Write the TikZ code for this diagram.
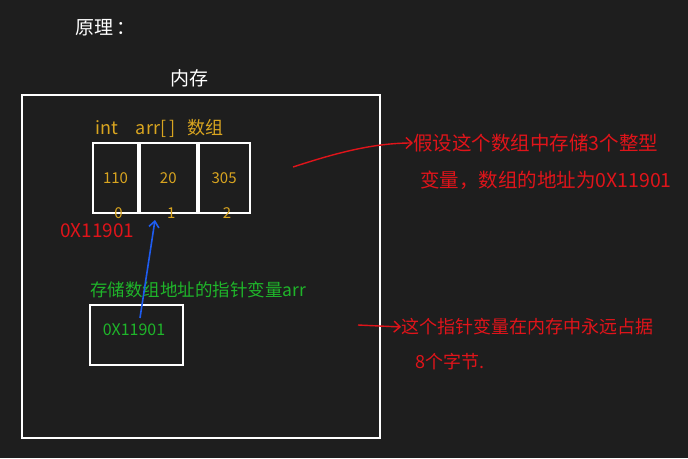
\documentclass[tikz,border=0pt]{standalone}
\usepackage{fontspec}
\newfontfamily\cjk{Noto Sans CJK SC}
\usetikzlibrary{positioning,arrows.meta}
\definecolor{bgdark}{HTML}{1E1E1E}
\definecolor{inkyellow}{HTML}{D9A520}
\definecolor{inkgreen}{HTML}{1FB52A}
\definecolor{inkred}{HTML}{E0141A}
\definecolor{inkblue}{HTML}{1E5CF0}
\begin{document}
\begin{tikzpicture}[x=1pt, y=-1pt, node distance=0cm,
    whitebox/.style={draw=white, line width=1.8pt},
    cellbox/.style={whitebox, minimum height=70pt, inner sep=0pt},
    whitetxt/.style={text=white, font=\cjk\fontsize{19}{22}\selectfont},
    yellowtxt/.style={text=inkyellow, font=\cjk\fontsize{15}{18}\selectfont},
    greentxt/.style={text=inkgreen, font=\cjk\fontsize{17.5}{20}\selectfont},
    redtxt/.style={text=inkred, font=\cjk\fontsize{19.5}{22}\selectfont, anchor=west, inner sep=0pt},
    redarrow/.style={draw=inkred, line width=1.4pt, -{Straight Barb[length=6pt,width=11pt]}}]
    \fill[bgdark] (0,0) rectangle (688,458);

    \node [whitetxt, anchor=west, inner sep=0pt] (title) at (75,28) {原理\,：};
    \node [whitetxt] (memlabel) at (189,78) {内存};
    \node [whitebox, minimum width=358pt, minimum height=343pt] (mem) at (201,266.5) {};

    % array
    \node [yellowtxt, font=\cjk\fontsize{18}{20}\selectfont, anchor=west, inner sep=0pt] (arrname) at (95,128) {int\quad arr[\,]\;\, 数组};
    \node [cellbox, minimum width=45pt] (cell0) at (115.5,178) {};
    \node [cellbox, minimum width=57pt, right=0cm of cell0] (cell1) {};
    \node [cellbox, minimum width=51pt, right=0cm of cell1] (cell2) {};
    \node [yellowtxt] at (cell0) {110};
    \node [yellowtxt] at (cell1) {20};
    \node [yellowtxt] at (cell2) {305};
    \node [yellowtxt, inner sep=0pt] at ([xshift=3pt,yshift=1pt]cell0.south) {0};
    \node [yellowtxt, inner sep=0pt] at ([xshift=3pt,yshift=1pt]cell1.south) {1};
    \node [yellowtxt, inner sep=0pt] at ([xshift=3pt,yshift=1pt]cell2.south) {2};
    \node [redtxt, font=\cjk\fontsize{19}{22}\selectfont] (arraddr) at (60,231) {0X11901};

    % pointer
    \node [greentxt, anchor=west, inner sep=0pt] (ptrname) at (90,290) {存储数组地址的指针变量arr};
    \node [whitebox, minimum width=93pt, minimum height=60pt] (ptr) at (136.5,335) {};
    \node [greentxt, font=\cjk\fontsize{16}{18}\selectfont] (ptrval) at (134,330) {0X11901};
    \coordinate (ptrtip) at (140,318);
    \coordinate (arrtip) at (155,220);
    \draw [inkblue, line width=1.6pt, -{Straight Barb[length=6pt,width=10pt]}] (ptrtip) -- (arrtip);

    % notes
    \node [redtxt] (note1a) at (413,143) {假设这个数组中存储3个整型};
    \node [redtxt] (note1b) at (420,180) {变量，数组的地址为0X11901};
    \coordinate (note1src) at (293,167);
    \draw [redarrow] (note1src) .. controls (330,155) and (370,143) .. (note1a.west);

    \node [redtxt, font=\cjk\fontsize{18}{20}\selectfont] (note2a) at (401,327) {这个指针变量在内存中永远占据};
    \node [redtxt, font=\cjk\fontsize{18}{20}\selectfont] (note2b) at (415,362) {8个字节.};
    \coordinate (note2src) at (358,325);
    \draw [redarrow] (note2src) -- (note2a.west);
\end{tikzpicture}
\end{document}
